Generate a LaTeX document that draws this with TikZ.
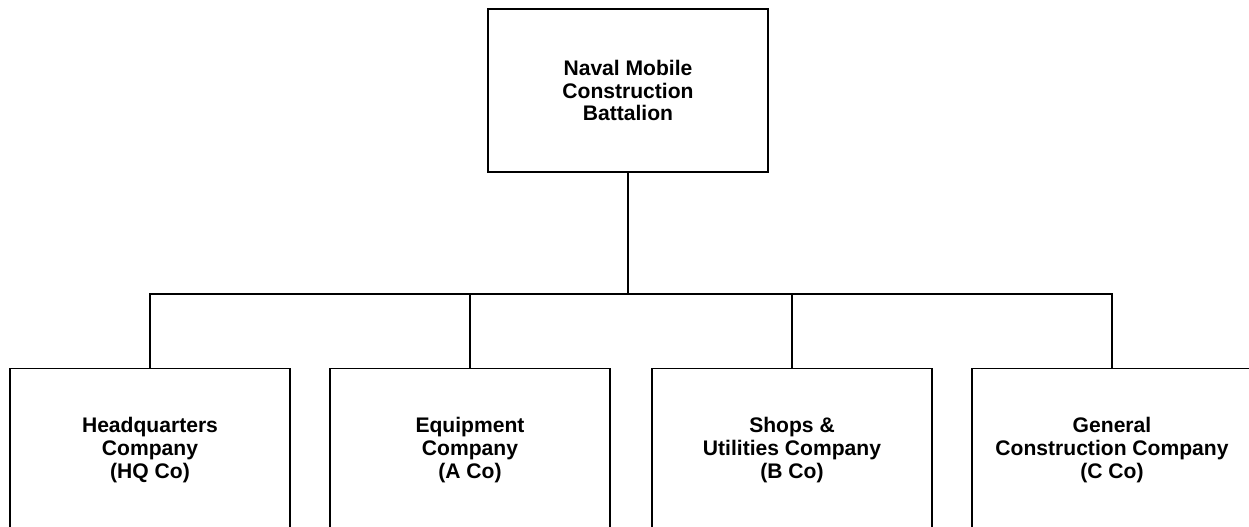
\documentclass[tikz,border=0pt]{standalone}
\usepackage{fontspec}
\setmainfont{Liberation Sans}
\usetikzlibrary{positioning}
\tikzset{unit/.style = {draw, line width=1pt, minimum width=5.6cm, minimum height=3.26cm,
                        align=center, font=\bfseries\fontsize{12}{12.9}\selectfont},
         link/.style = {line width=1.5pt}}

\begin{document}
\begin{tikzpicture}[x=0.02cm, y=-0.02cm]
    \useasboundingbox (0, 0) rectangle (1249, 527);

    \node [unit] (nmcb) at (628, 90.5) {Naval Mobile\\Construction\\Battalion};

    \node [unit] (hq) at (150, 450) {Headquarters\\Company\\(HQ Co)};
    \node [unit] (aco) at (470, 450) {Equipment\\Company\\(A Co)};
    \node [unit] (bco) at (792, 450) {Shops \&\\Utilities Company\\(B Co)};
    \node [unit] (cco) at (1112, 450) {General\\Construction Company\\(C Co)};

    \coordinate (bar) at (628, 294);
    \draw [link] (nmcb) -- (bar);
    \foreach \n in {hq, aco, bco, cco} {
      \draw [link] (bar) -| (\n.north);
    }

  \end{tikzpicture}
\end{document}
